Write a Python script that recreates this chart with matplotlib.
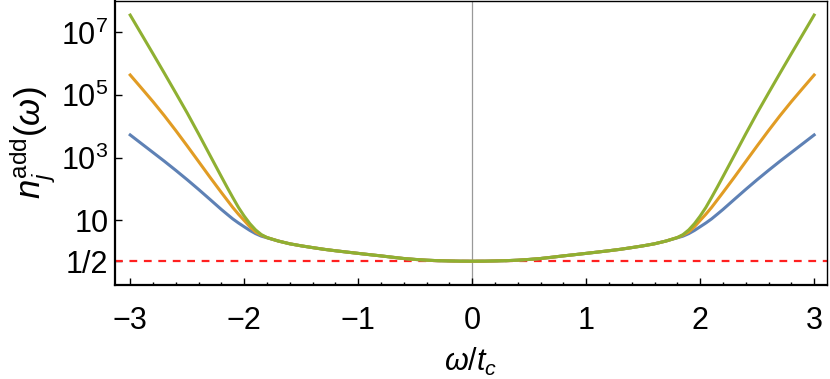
import matplotlib
matplotlib.use("Agg")
import matplotlib.pyplot as plt
from matplotlib.ticker import FixedLocator, MultipleLocator

plt.rcParams['font.family'] = ['Liberation Sans', 'DejaVu Sans']
plt.rcParams['mathtext.fontset'] = 'custom'
plt.rcParams['mathtext.rm'] = 'Liberation Sans'
plt.rcParams['mathtext.it'] = 'Liberation Sans:italic'
plt.rcParams['mathtext.bf'] = 'Liberation Sans:bold'

omega = [-3.0, -2.9, -2.8, -2.7, -2.6, -2.5, -2.4, -2.3, -2.2, -2.15, -2.1, -2.05, -2.0,
         -1.95, -1.9, -1.85, -1.8,
         -1.7, -1.6, -1.5, -1.4, -1.3, -1.2, -1.1, -1.0, -0.9, -0.8, -0.7, -0.6, -0.5,
         -0.4, -0.3, -0.2, -0.1, 0.0, 0.1, 0.2, 0.3, 0.4, 0.5, 0.6, 0.7, 0.8, 0.9, 1.0,
         1.1, 1.2, 1.3, 1.4, 1.5, 1.6, 1.7,
         1.8, 1.85, 1.9, 1.95, 2.0, 2.05, 2.1, 2.15, 2.2, 2.3, 2.4, 2.5, 2.6, 2.7, 2.8,
         2.9, 3.0]

# shared central part (omega = -1.7 ... 1.7)
center = [2.2, 1.8, 1.55, 1.36, 1.2, 1.08, 0.98, 0.89, 0.81, 0.74, 0.67, 0.61, 0.57,
          0.54, 0.52, 0.51, 0.502, 0.5, 0.502, 0.51, 0.52, 0.54, 0.57, 0.61, 0.67,
          0.74, 0.81, 0.89, 0.98, 1.08, 1.2, 1.36, 1.55, 1.8, 2.2]

# tails for |omega| = 3.0, 2.9, ..., 2.2, 2.15, ..., 1.8
blue_tail = [5370, 2820, 1480, 776, 398, 200, 98, 47, 22.4, 15.8, 11.2, 8.3, 6.3,
             4.8, 3.8, 3.16, 2.8]
orange_tail = [4.4e5, 1.66e5, 6.2e4, 2.2e4, 7.4e3, 2.4e3, 760, 240, 78, 45, 26, 15.8, 10,
               6.3, 4.3, 3.4, 2.85]
green_tail = [3.6e7, 8.7e6, 2.1e6, 5.0e5, 1.17e5, 2.7e4, 5.8e3, 1.2e3, 250, 115, 54, 26,
              13.8, 7.9, 5.0, 3.55, 2.85]

blue = blue_tail + center + blue_tail[::-1]
orange = orange_tail + center + orange_tail[::-1]
green = green_tail + center + green_tail[::-1]

ytick_vals = [0.5, 10, 1e3, 1e5, 1e7]
ytick_labels = ['1/2', '10', r'$10^{3}$', r'$10^{5}$', r'$10^{7}$']
xtick_vals = [-3, -2, -1, 0, 1, 2, 3]
xtick_labels = ['\u22123', '\u22122', '\u22121', '0', '1', '2', '3']

fig = plt.figure(figsize=(8.30, 3.79), dpi=100)
ax = fig.add_axes([0.139, 0.248, 0.857, 0.75])

ax.axvline(0, color='#999999', lw=0.9, zorder=1)
ax.axhline(0.5, color='#ff2020', lw=1.6, ls=(0, (3.5, 3.0)), zorder=2)

ax.plot(omega, blue, color='#5E81B5', lw=2.2, zorder=3, solid_joinstyle='round')
ax.plot(omega, orange, color='#E19C24', lw=2.2, zorder=4, solid_joinstyle='round')
ax.plot(omega, green, color='#8FB032', lw=2.2, zorder=5, solid_joinstyle='round')

ax.set_yscale('log')
ax.set_xlim(-3.13, 3.11)
ax.set_ylim(0.087, 1.03e8)

ax.set_yticks(ytick_vals)
ax.set_yticklabels(ytick_labels)
ax.yaxis.set_minor_locator(FixedLocator([]))
ax.set_xticks(xtick_vals)
ax.set_xticklabels(xtick_labels)
ax.xaxis.set_minor_locator(MultipleLocator(0.2))

ax.tick_params(axis='both', which='major', direction='in', length=5, width=1.0,
               labelsize=22)
ax.tick_params(axis='x', which='major', pad=15)
ax.tick_params(axis='y', which='major', pad=5)
ax.tick_params(axis='x', which='minor', direction='in', length=2.5, width=1.0)
ax.tick_params(axis='y', which='minor', length=0)

for side in ['left', 'bottom']:
    ax.spines[side].set_linewidth(1.6)
    ax.spines[side].set_color('black')
for side in ['top', 'right']:
    ax.spines[side].set_linewidth(1.0)
    ax.spines[side].set_color('black')

ax.set_xlabel(r'$\omega/t_c$', fontsize=22, labelpad=7)
ax.set_ylabel(r'$n_j^{\rm add}(\omega)$', fontsize=25, labelpad=2)

fig.savefig('out.png', dpi=100)
